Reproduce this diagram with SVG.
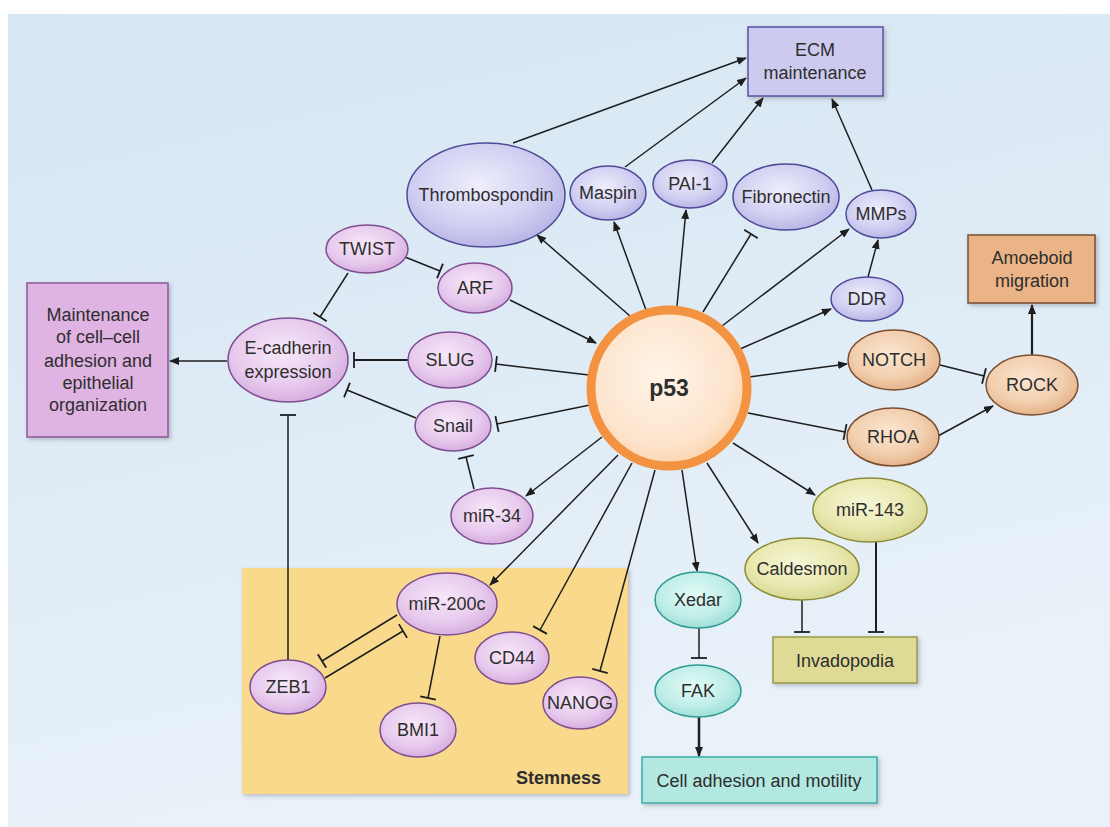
<svg xmlns="http://www.w3.org/2000/svg" width="1110" height="827" viewBox="0 0 1110 827">
<defs>
<linearGradient id="bg" x1="0" y1="0" x2="0.3" y2="1">
<stop offset="0" stop-color="#d6e6f3"/><stop offset="0.6" stop-color="#e0ecf6"/><stop offset="1" stop-color="#eaf2f9"/>
</linearGradient>
<radialGradient id="gPink" cx="0.45" cy="0.4" r="0.65"><stop offset="0" stop-color="#f6e8f8"/><stop offset="0.6" stop-color="#e8cbee"/><stop offset="1" stop-color="#d3a8dc"/></radialGradient>
<radialGradient id="gBlue" cx="0.45" cy="0.4" r="0.65"><stop offset="0" stop-color="#eeeefc"/><stop offset="0.6" stop-color="#d2d0f2"/><stop offset="1" stop-color="#b4b0e4"/></radialGradient>
<radialGradient id="gTan" cx="0.45" cy="0.4" r="0.65"><stop offset="0" stop-color="#fbe6d2"/><stop offset="0.6" stop-color="#f2cfae"/><stop offset="1" stop-color="#e2ad82"/></radialGradient>
<radialGradient id="gOlive" cx="0.45" cy="0.4" r="0.65"><stop offset="0" stop-color="#f6f6d6"/><stop offset="0.6" stop-color="#e8e8b0"/><stop offset="1" stop-color="#d4d48a"/></radialGradient>
<radialGradient id="gTeal" cx="0.45" cy="0.4" r="0.65"><stop offset="0" stop-color="#e2faf6"/><stop offset="0.6" stop-color="#c0eee8"/><stop offset="1" stop-color="#98dcd4"/></radialGradient>
<radialGradient id="gP53" cx="0.45" cy="0.42" r="0.6"><stop offset="0" stop-color="#fff4e8"/><stop offset="0.75" stop-color="#fde4cc"/><stop offset="1" stop-color="#fbd2a8"/></radialGradient>
<marker id="arr" viewBox="0 0 10 8" refX="9" refY="4" markerWidth="10" markerHeight="8" markerUnits="userSpaceOnUse" orient="auto"><path d="M0,0 L10,4 L0,8 z" fill="#1e1e1e"/></marker>
<marker id="tee" viewBox="0 0 4 16" refX="2" refY="8" markerWidth="4" markerHeight="16" markerUnits="userSpaceOnUse" orient="auto"><path d="M2,0 V16" stroke="#1e1e1e" stroke-width="1.8"/></marker>
<filter id="sh" x="-10%" y="-10%" width="125%" height="125%"><feDropShadow dx="2" dy="2" stdDeviation="2" flood-color="#556" flood-opacity="0.35"/></filter>
</defs>
<style>
text{font-family:"Liberation Sans",Arial,sans-serif;font-size:18px;fill:#2e2e2e;text-anchor:middle;}
.c line,.c path{stroke:#1e1e1e;stroke-width:1.5;fill:none;}
.a{marker-end:url(#arr);}
.t{marker-end:url(#tee);}
.pk{fill:url(#gPink);stroke:#7e4e90;stroke-width:1.5;}
.bl{fill:url(#gBlue);stroke:#4e4a98;stroke-width:1.5;}
.tn{fill:url(#gTan);stroke:#7a4e30;stroke-width:1.5;}
.ol{fill:url(#gOlive);stroke:#8a8a3a;stroke-width:1.5;}
.tl{fill:url(#gTeal);stroke:#2f9a94;stroke-width:1.5;}
</style>
<rect width="1110" height="827" fill="#ffffff"/>
<rect x="8" y="14" width="1102" height="813" fill="url(#bg)"/>

<g id="stemness">
<rect x="242" y="568" width="386" height="226" fill="#f9d98b" filter="url(#sh)"/>
<text x="601" y="784" style="font-weight:bold;text-anchor:end">Stemness</text>
</g>

<g class="c" id="connectors">
<line class="a" x1="513" y1="143" x2="746" y2="58"/>
<line class="a" x1="625" y1="167" x2="746" y2="78"/>
<line class="a" x1="712" y1="163" x2="763" y2="98"/>
<line class="a" x1="872" y1="190" x2="832" y2="99"/>
<line class="a" x1="630" y1="316" x2="537" y2="235"/>
<line class="a" x1="646" y1="310" x2="614" y2="222"/>
<line class="a" x1="677" y1="306" x2="686" y2="210"/>
<line class="t" x1="703" y1="312" x2="751" y2="234"/>
<line class="a" x1="722" y1="326" x2="849" y2="229"/>
<line class="a" x1="868" y1="277" x2="878" y2="240"/>
<line class="a" x1="740" y1="349" x2="831" y2="309"/>
<line class="a" x1="749" y1="377" x2="847" y2="364"/>
<line class="t" x1="748" y1="413" x2="845" y2="432"/>
<line class="t" x1="940" y1="365" x2="984" y2="376"/>
<line class="a" x1="938" y1="436" x2="993" y2="406"/>
<line class="a" x1="1032" y1="355" x2="1032" y2="305" style="stroke-width:2.2"/>
<line class="a" x1="733" y1="443" x2="815" y2="495"/>
<line class="a" x1="707" y1="463" x2="758" y2="543"/>
<line class="a" x1="682" y1="470" x2="697" y2="571"/>
<line class="t" x1="655" y1="470" x2="600" y2="671"/>
<line class="t" x1="632" y1="463" x2="540" y2="630"/>
<line class="a" x1="618" y1="455" x2="490" y2="585"/>
<line class="a" x1="602" y1="437" x2="526" y2="496"/>
<line class="t" x1="590" y1="405" x2="497" y2="424"/>
<line class="t" x1="589" y1="375" x2="496" y2="364"/>
<line class="a" x1="510" y1="300" x2="596" y2="343"/>
<line class="t" x1="405" y1="257" x2="440" y2="271"/>
<line class="t" x1="348" y1="273" x2="320" y2="317"/>
<line class="t" x1="408" y1="360" x2="354" y2="360" style="stroke-width:2"/>
<line class="t" x1="416" y1="418" x2="347" y2="390"/>
<line class="t" x1="474" y1="489" x2="466" y2="457"/>
<line class="a" x1="227" y1="361" x2="170" y2="361"/>
<line class="t" x1="288" y1="660" x2="288" y2="415"/>
<line class="t" x1="397" y1="615" x2="322" y2="661"/>
<line class="t" x1="325" y1="678" x2="403" y2="631"/>
<line class="t" x1="440" y1="636" x2="428" y2="698"/>
<line class="t" x1="699" y1="628" x2="699" y2="658"/>
<line class="a" x1="699" y1="717" x2="699" y2="756" style="stroke-width:2.5"/>
<line class="t" x1="802" y1="600" x2="802" y2="632"/>
<line class="t" x1="876" y1="542" x2="876" y2="632" style="stroke-width:2"/>
</g>

<g id="ecm"><rect x="748" y="27" width="135" height="69" fill="#cdcaf0" stroke="#5a50a0" stroke-width="1.5" filter="url(#sh)"/><text x="815" y="56">ECM</text><text x="815" y="79">maintenance</text></g>
<g id="amoeboid"><rect x="968" y="235" width="127" height="68" fill="#ebb486" stroke="#7a4e30" stroke-width="1.5" filter="url(#sh)"/><text x="1032" y="264">Amoeboid</text><text x="1032" y="287">migration</text></g>
<g id="maintenance"><rect x="27" y="283" width="141" height="154" fill="#dfb3e2" stroke="#8a5a9a" stroke-width="1.5" filter="url(#sh)"/>
<text x="98" y="321">Maintenance</text><text x="98" y="343">of cell–cell</text><text x="98" y="367">adhesion and</text><text x="98" y="389">epithelial</text><text x="98" y="411">organization</text></g>
<g id="invadopodia"><rect x="773" y="637" width="144" height="46" fill="#dedb96" stroke="#9a9a4a" stroke-width="1.5" filter="url(#sh)"/><text x="845" y="667">Invadopodia</text></g>
<g id="celladh"><rect x="642" y="757" width="235" height="46" fill="#b2e8e0" stroke="#3aaea6" stroke-width="1.5" filter="url(#sh)"/><text x="759" y="787">Cell adhesion and motility</text></g>

<g id="thrombospondin"><ellipse class="bl" cx="486" cy="195" rx="79" ry="52"/><text x="486" y="201">Thrombospondin</text></g>
<g id="maspin"><ellipse class="bl" cx="608" cy="193" rx="38" ry="27"/><text x="608" y="199">Maspin</text></g>
<g id="pai1"><ellipse class="bl" cx="690" cy="184" rx="37" ry="24"/><text x="690" y="190">PAI-1</text></g>
<g id="fibronectin"><ellipse class="bl" cx="786" cy="197" rx="53" ry="33"/><text x="786" y="203">Fibronectin</text></g>
<g id="mmps"><ellipse class="bl" cx="881" cy="214" rx="35" ry="24"/><text x="881" y="220">MMPs</text></g>
<g id="ddr"><ellipse class="bl" cx="867" cy="299" rx="36" ry="22"/><text x="867" y="305">DDR</text></g>
<g id="twist"><ellipse class="pk" cx="367" cy="249" rx="41" ry="24"/><text x="367" y="255">TWIST</text></g>
<g id="arf"><ellipse class="pk" cx="475" cy="288" rx="37" ry="25"/><text x="475" y="294">ARF</text></g>
<g id="ecadherin"><ellipse class="pk" cx="288" cy="360" rx="60" ry="42"/><text x="288" y="354">E-cadherin</text><text x="288" y="378">expression</text></g>
<g id="slug"><ellipse class="pk" cx="450" cy="360" rx="42" ry="28"/><text x="450" y="366">SLUG</text></g>
<g id="snail"><ellipse class="pk" cx="453" cy="426" rx="38" ry="25"/><text x="453" y="432">Snail</text></g>
<g id="mir34"><ellipse class="pk" cx="492" cy="516" rx="41" ry="28"/><text x="492" y="522">miR-34</text></g>
<g id="p53"><ellipse cx="669" cy="388" rx="78" ry="78" fill="url(#gP53)" stroke="#f39240" stroke-width="9"/><text x="669" y="396" style="font-size:23px;font-weight:bold">p53</text></g>
<g id="notch"><ellipse class="tn" cx="894" cy="360" rx="46" ry="30"/><text x="894" y="366">NOTCH</text></g>
<g id="rhoa"><ellipse class="tn" cx="893" cy="437" rx="46" ry="29"/><text x="893" y="443">RHOA</text></g>
<g id="rock"><ellipse class="tn" cx="1032" cy="385" rx="46" ry="30"/><text x="1032" y="391">ROCK</text></g>
<g id="mir143"><ellipse class="ol" cx="870" cy="510" rx="57" ry="32"/><text x="870" y="516">miR-143</text></g>
<g id="caldesmon"><ellipse class="ol" cx="802" cy="569" rx="57" ry="31"/><text x="802" y="575">Caldesmon</text></g>
<g id="xedar"><ellipse class="tl" cx="698" cy="600" rx="43" ry="28"/><text x="698" y="606">Xedar</text></g>
<g id="fak"><ellipse class="tl" cx="698" cy="691" rx="43" ry="26"/><text x="698" y="697">FAK</text></g>
<g id="mir200c"><ellipse class="pk" cx="447" cy="604" rx="50" ry="31"/><text x="447" y="610">miR-200c</text></g>
<g id="cd44"><ellipse class="pk" cx="512" cy="658" rx="37" ry="26"/><text x="512" y="664">CD44</text></g>
<g id="nanog"><ellipse class="pk" cx="580" cy="703" rx="37" ry="26"/><text x="580" y="709">NANOG</text></g>
<g id="zeb1"><ellipse class="pk" cx="288" cy="687" rx="38" ry="27"/><text x="288" y="693">ZEB1</text></g>
<g id="bmi1"><ellipse class="pk" cx="418" cy="730" rx="38" ry="27"/><text x="418" y="736">BMI1</text></g>
</svg>
